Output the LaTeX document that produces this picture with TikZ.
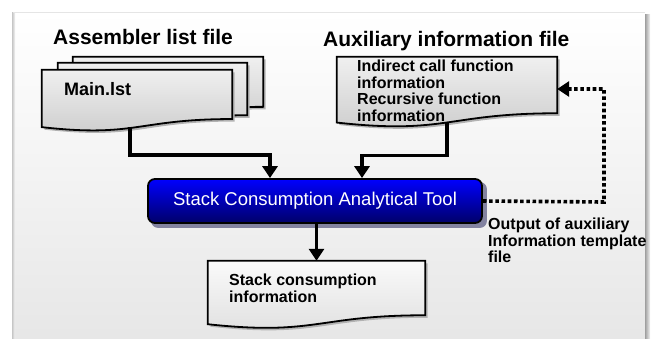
\documentclass[tikz,border=0pt]{standalone}
\usepackage{fontspec}
\setmainfont{Liberation Sans}
\usetikzlibrary{calc,arrows.meta}
\pgfdeclarelayer{back}
\pgfdeclarelayer{bg}
\pgfsetlayers{back,bg,main}
\definecolor{boxtop}{RGB}{0,0,255}
\definecolor{boxbot}{RGB}{0,0,105}
\definecolor{boxshadow}{RGB}{130,130,160}
\tikzset{
  docbox/.style={rectangle, inner sep=0pt, draw=none},
  docfill/.style={draw=black, line width=1.8pt, top color=gray!12, bottom color=gray!40},
  outfill/.style={draw=black, line width=1.8pt, top color=gray!4, bottom color=gray!25},
  docshadow/.style={fill=gray!60},
  titletext/.style={anchor=north west, inner sep=0pt, font=\bfseries\fontsize{21}{24}\selectfont},
  doctext/.style={anchor=north west, inner sep=0pt, align=left, font=\bfseries\fontsize{16}{16.5}\selectfont},
  toolbox/.style={rectangle, rounded corners=7pt, draw=black, line width=1.8pt,
    top color=boxtop, bottom color=boxbot, text=white, inner sep=0pt,
    minimum width=334pt, minimum height=44pt, font=\fontsize{18.5}{20}\selectfont},
  arr/.style={line width=3.6pt, -{Triangle[width=15pt,length=12pt]}},
  dotarr/.style={line width=3.6pt, dash pattern=on 3.6pt off 2.6pt, -{Triangle[width=15pt,length=12pt]}},
}
\newcommand\docshape[3]{%
  \path[#1] ($(#2.north west)+(#3)$) -- ($(#2.north east)+(#3)$)
    -- ($(#2.north east)!0.802!(#2.south east)+(#3)$)
    .. controls ($(#2.north)!0.802!(#2.south)+(#3)$) and ($(#2.north)!1.107!(#2.south)+(#3)$)
    .. ($(#2.north west)!0.934!(#2.south west)+(#3)$) -- cycle;}
\begin{document}
\begin{tikzpicture}[x=1pt,y=-1pt]
\useasboundingbox (0,0) rectangle (653,338);
% panel
\begin{pgfonlayer}{back}
  \fill[white] (0,0) rectangle (653,338);
  \fill[top color=white, bottom color=gray!19] (13,12) rectangle (645,338);
  \fill[left color=gray!75, right color=gray!10] (645,14) rectangle (650,338);
  \fill[left color=gray!45, right color=gray!8] (12,12) rectangle (15,338);
  \draw[gray!20, line width=0.6pt] (13,12) -- (645,12);
\end{pgfonlayer}
% document nodes
\node[docbox, minimum width=190pt, minimum height=62pt] (backdoc) at (168,88) {};
\node[docbox, minimum width=189pt, minimum height=65pt] (middoc) at (152.5,95.5) {};
\node[docbox, minimum width=190pt, minimum height=61pt] (mainlst) at (137,100.5) {};
\node[docbox, minimum width=220pt, minimum height=70pt] (aux) at (447,92) {};
\node[docbox, minimum width=217pt, minimum height=67.5pt] (out) at (316.5,294.75) {};
\node[toolbox] (tool) at (315,201) {Stack Consumption Analytical Tool};
\begin{pgfonlayer}{bg}
  \docshape{docshadow}{backdoc}{2.5,2.5}
  \docshape{docfill}{backdoc}{0,0}
  \docshape{docshadow}{middoc}{2.5,2.5}
  \docshape{docfill}{middoc}{0,0}
  \docshape{docshadow}{mainlst}{2.5,2.5}
  \docshape{docfill}{mainlst}{0,0}
  \docshape{docshadow}{aux}{2.5,2.5}
  \docshape{docfill}{aux}{0,0}
  \docshape{docshadow}{out}{2.5,2.5}
  \docshape{outfill}{out}{0,0}
  \fill[boxshadow, rounded corners=7pt] ($(tool.north west)+(4,4)$) rectangle ($(tool.south east)+(4,4)$);
\end{pgfonlayer}
% texts
\node[titletext] (t1) at (53,29) {Assembler list file};
\node[titletext] (t2) at (323,31) {Auxiliary information file};
\node[anchor=north west, inner sep=0pt, font=\bfseries\fontsize{18}{20}\selectfont] (mainlbl) at (64,82) {Main.lst};
\node[doctext] (auxlbl) at (357,60) {Indirect call function\\information\\Recursive function\\information};
\node[doctext] (outlbl) at (229,274) {Stack consumption\\information};
\node[doctext] (tpl) at (488,218) {Output of auxiliary\\Information template\\file};
% connectors
\draw[arr] ($(mainlst.north)!0.933!(mainlst.south)+(-7,0)$) -- ++(0,28) -| ([xshift=-45pt]tool.north);
\draw[arr] ($(aux.north)!0.933!(aux.south)$) -- ++(0,33) -| ([xshift=47pt]tool.north);
\draw[arr] (tool.south -| out.north) -- (out.north);
\coordinate (turn) at (604,202);
\draw[dotarr] (tool.east) -- (turn) |- ([yshift=3pt]aux.east);
\end{tikzpicture}
\end{document}
